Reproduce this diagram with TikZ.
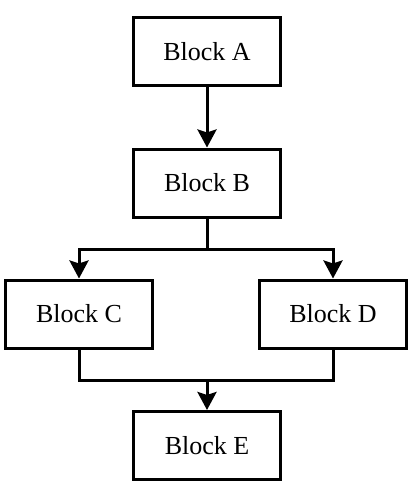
\documentclass[tikz,border=0pt]{standalone}
\usepackage{fontspec}
\setmainfont{Liberation Serif}
\usetikzlibrary{arrows.meta}
\begin{document}
\begin{tikzpicture}[x=1pt,y=-1pt,
  blockbox/.style={draw=black, line width=3pt, fill=white, minimum width=147pt, minimum height=68pt, inner sep=0pt, font=\fontsize{26}{31}\selectfont},
  conn/.style={line width=3pt, draw=black},
  arr/.style={conn, -{Stealth[length=18pt,width=19pt,inset=3pt]}}]
\useasboundingbox (0,0) rectangle (412,493);
\node[blockbox] (A) at (207,51.5) {Block A};
\node[blockbox] (B) at (207,183) {Block B};
\node[blockbox] (C) at (79,314) {Block C};
\node[blockbox] (D) at (333,314) {Block D};
\node[blockbox] (E) at (207,445.5) {Block E};
\coordinate (split) at (207,249);
\coordinate (merge) at (207,380);
\draw[arr] (A) -- (B);
\draw[conn] (B.south) -- (split);
\draw[arr] (split) -| (C.north);
\draw[arr] (split) -| (D.north);
\draw[conn] (C.south) |- (merge);
\draw[conn] (D.south) |- (merge);
\draw[arr] (merge) -- (E.north);
\end{tikzpicture}
\end{document}
